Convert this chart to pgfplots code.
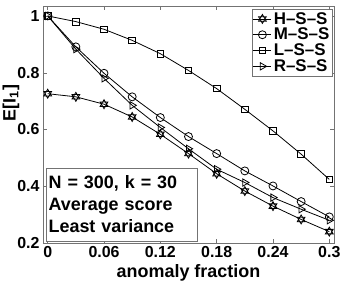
\documentclass[border=0pt]{standalone}
\usepackage{fontspec}
\setmainfont{Liberation Sans}
\usepackage{pgfplots}
\pgfplotsset{compat=1.18}
\usetikzlibrary{plotmarks}
\pgfdeclareplotmark{hexagram}{%
  \pgfpathmoveto{\pgfqpoint{0pt}{\pgfplotmarksize}}%
  \pgfpathlineto{\pgfqpoint{0.866\pgfplotmarksize}{-0.5\pgfplotmarksize}}%
  \pgfpathlineto{\pgfqpoint{-0.866\pgfplotmarksize}{-0.5\pgfplotmarksize}}%
  \pgfpathclose
  \pgfpathmoveto{\pgfqpoint{0pt}{-\pgfplotmarksize}}%
  \pgfpathlineto{\pgfqpoint{0.866\pgfplotmarksize}{0.5\pgfplotmarksize}}%
  \pgfpathlineto{\pgfqpoint{-0.866\pgfplotmarksize}{0.5\pgfplotmarksize}}%
  \pgfpathclose
  \pgfusepathqstroke}
\definecolor{axgray}{gray}{0.45}
\begin{document}
\begin{tikzpicture}
\begin{axis}[
  scale only axis,
  width=291bp, height=237bp,
  xmin=-0.005, xmax=0.305,
  ymin=0.2, ymax=1.035,
  xtick={0,0.06,0.12,0.18,0.24,0.3},
  ytick={0.2,0.4,0.6,0.8,1},
  tick align=inside,
  major tick length=4bp,
  axis line style={axgray},
  every tick/.style={axgray},
  /pgf/number format/assume math mode=true,
  /pgf/number format/fixed,
  /pgf/number format/precision=2,
  tick label style={font=\bfseries\fontsize{16}{18}\selectfont},
  label style={font=\bfseries\fontsize{18}{20}\selectfont},
  xlabel={anomaly fraction},
  ylabel={E[I\textsubscript{1}]},
  xlabel style={at={(axis description cs:0.5,-0.127)}, anchor=center},
  ylabel style={at={(axis description cs:-0.11,0.59)}, anchor=center},
  legend style={at={(rel axis cs:0.995,0.987)}, anchor=north east,
    draw=axgray, font=\bfseries\fontsize{17}{19}\selectfont,
    inner sep=1bp, row sep=-1.5bp, cells={anchor=west}},
  legend image code/.code={%
    \draw[mark repeat=2,mark phase=2] plot coordinates {(0bp,0bp) (9bp,0bp) (18bp,0bp)};},
  every axis plot/.append style={black, line width=0.8pt, mark options={solid, line width=0.8pt}},
]
\addplot[mark=hexagram, mark size=4.5bp] coordinates {
(0,0.726) (0.03,0.715) (0.06,0.689) (0.09,0.644) (0.12,0.583) (0.15,0.515)
(0.18,0.444) (0.21,0.383) (0.24,0.330) (0.27,0.283) (0.3,0.240)};
\addlegendentry{H--S--S}
\addplot[mark=o, mark size=4bp] coordinates {
(0,1.0) (0.03,0.891) (0.06,0.798) (0.09,0.715) (0.12,0.642) (0.15,0.575)
(0.18,0.515) (0.21,0.454) (0.24,0.401) (0.27,0.346) (0.3,0.292)};
\addlegendentry{M--S--S}
\addplot[mark=square, mark size=3.3bp] coordinates {
(0,1.0) (0.03,0.980) (0.06,0.953) (0.09,0.914) (0.12,0.867) (0.15,0.808)
(0.18,0.744) (0.21,0.671) (0.24,0.595) (0.27,0.513) (0.3,0.424)};
\addlegendentry{L--S--S}
\addplot[mark=triangle, mark size=4.2bp, mark options={rotate=-90}] coordinates {
(0,1.0) (0.03,0.883) (0.06,0.780) (0.09,0.685) (0.12,0.607) (0.15,0.532)
(0.18,0.460) (0.21,0.413) (0.24,0.360) (0.27,0.319) (0.3,0.280)};
\addlegendentry{R--S--S}
\node[draw=axgray, fill=white, anchor=south west, inner sep=2bp, align=left,
  minimum width=151bp, minimum height=73bp, text width=146bp,
  font=\bfseries\fontsize{18}{22}\selectfont]
  at (rel axis cs:0.01,0.008) {N = 300, k = 30\\Average score\\Least variance};
\end{axis}
\pgfresetboundingbox
\path (current axis.south west) ++(-43bp,-43bp) coordinate (bl);
\path (current axis.north east) ++(26bp,6bp) coordinate (tr);
\useasboundingbox (bl) rectangle (tr);
\end{tikzpicture}
\end{document}
